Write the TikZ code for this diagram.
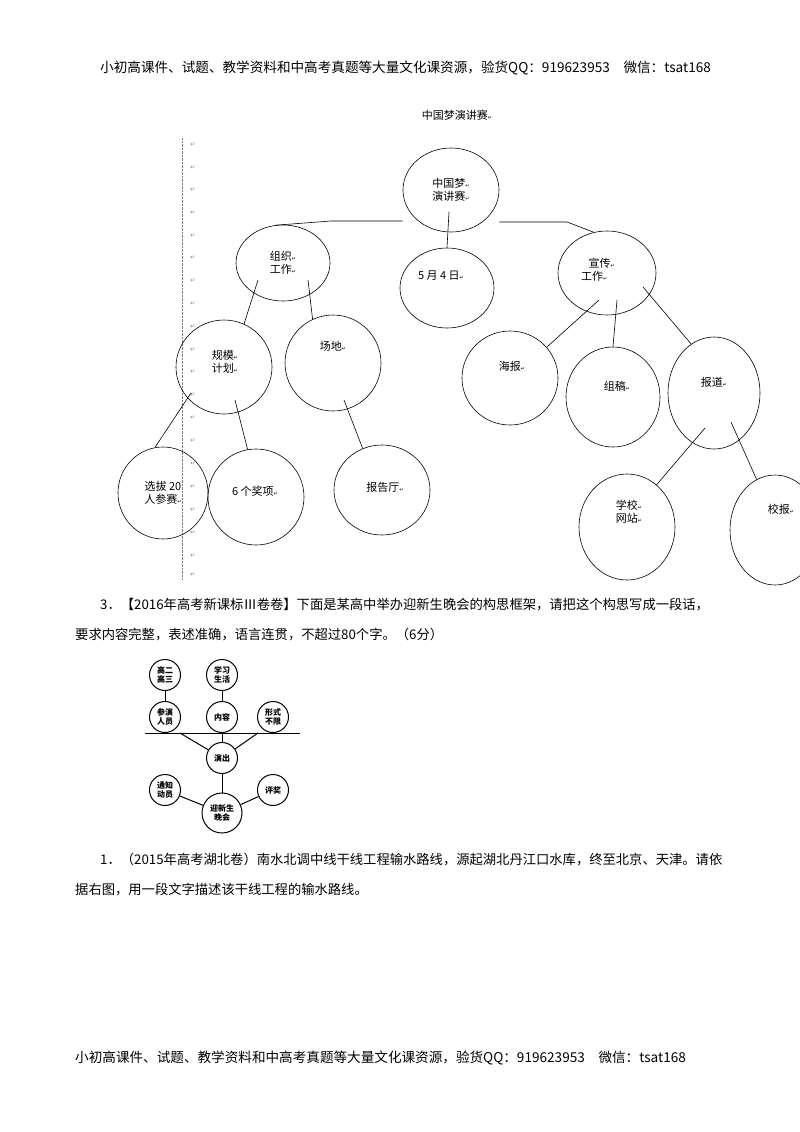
\documentclass[tikz,border=0pt]{standalone}
\usepackage{fontspec}
\usetikzlibrary{shapes.geometric}
\setmainfont{Noto Sans CJK SC}
\newfontfamily\dvs{DejaVu Sans}
\begin{document}
\begin{tikzpicture}[x=1pt,y=-1pt,
  bub/.style={draw,line width=0.6pt,ellipse,inner sep=0,font=\fontsize{11}{13}\selectfont,align=center},
  sm/.style={draw,line width=1pt,circle,minimum size=31,inner sep=0,font=\fontsize{8}{9}\selectfont\bfseries,align=center},
  ln/.style={line width=0.6pt},
  txt/.style={anchor=west,inner sep=0,font=\fontsize{13.3}{15}\selectfont}]
\useasboundingbox (0,0) rectangle (800,1132);
\fill[white] (0,0) rectangle (800,1132);
\node[inner sep=0,font=\fontsize{13.6}{15}\selectfont,anchor=west] (hdr) at (100,68) {小初高课件、试题、教学资料和中高考真题等大量文化课资源，验货QQ：919623953\quad 微信：tsat168};
\node[inner sep=0,font=\fontsize{13.6}{15}\selectfont,anchor=west] (ftr) at (75,1058) {小初高课件、试题、教学资料和中高考真题等大量文化课资源，验货QQ：919623953\quad 微信：tsat168};
% margin
\draw[densely dotted,gray] (182,138) -- (182,580);
\foreach \y in {145,168,190,213,236,258,281,304,327,350,372,395,418,441,464,487,510,533,556,575}
  \node[font=\dvs\fontsize{6}{6}\selectfont,text=gray] at (193,\y) {↵};
\node[font=\fontsize{11}{12}\selectfont] (title) at (457,115) {中国梦演讲赛{\dvs\tiny ↵}};
% nodes
\newcommand\rt{{\dvs\tiny ↵}}
\node[bub,minimum width=96,minimum height=84] (root) at (451,190) {中国梦\rt\\演讲赛\rt};
\node[bub,minimum width=94,minimum height=76] (zz) at (283,263) {组织\rt\\工作\rt};
\node[bub,minimum width=94,minimum height=80] (d54) at (447,288) {};
\node[font=\fontsize{11}{12}\selectfont] at (441,276) {5 月 4 日\rt};
\node[bub,minimum width=98,minimum height=84] (xc) at (607,273) {};
\node[font=\fontsize{11}{13}\selectfont,align=left] at (598,270) {\ \ \ 宣传\rt\\工作\rt};
\node[bub,minimum width=96,minimum height=94] (gm) at (224,367) {};
\node[font=\fontsize{11}{13}\selectfont,align=center] at (225,362) {规模\rt\\计划\rt};
\node[bub,minimum width=96,minimum height=96] (cd) at (333,363) {};
\node[font=\fontsize{11}{12}\selectfont] at (333,346) {场地\rt};
\node[bub,minimum width=96,minimum height=94] (hb) at (510,378) {};
\node[font=\fontsize{11}{12}\selectfont] at (512,366) {海报\rt};
\node[bub,minimum width=94,minimum height=100] (zg) at (613,397) {};
\node[font=\fontsize{11}{12}\selectfont] at (617,386) {组稿\rt};
\node[bub,minimum width=92,minimum height=112] (bd) at (714,393) {};
\node[font=\fontsize{11}{12}\selectfont] at (714,382) {报道\rt};
\node[bub,minimum width=90,minimum height=92] (xb) at (163,493) {选拔 20\\人参赛\rt};
\node[bub,minimum width=96,minimum height=96] (jx) at (256,497) {};
\node[font=\fontsize{11}{12}\selectfont] at (255,491) {6 个奖项\rt};
\node[bub,minimum width=96,minimum height=90] (bgt) at (382,490) {};
\node[font=\fontsize{11}{12}\selectfont] at (385,487) {报告厅\rt};
\node[bub,minimum width=96,minimum height=106] (wz) at (627,527) {};
\node[font=\fontsize{11}{13}\selectfont,align=center] at (629,512) {学校\rt\\网站\rt};
\node[bub,minimum width=90,minimum height=110] (xbao) at (775,530) {};
\node[font=\fontsize{11}{12}\selectfont] at (781,509) {校报\rt};
% connectors
\coordinate (l1) at (331,221); \coordinate (r1) at (567,222);
\draw[ln] (root.west|-l1) -- (l1) -- (zz.102);
\draw[ln] (root.east|-r1) -- (r1) -- (xc.108);
\coordinate (m1) at (449,212);
\draw[ln] (m1) -- (d54.north);
\coordinate (a1) at (258,280); \coordinate (a2) at (308,280);
\draw[ln] (a1) -- (gm.65);
\draw[ln] (a2) -- (cd.115);
\coordinate (b1) at (191,393); \coordinate (b2) at (235,400); \coordinate (b3) at (344,400);
\draw[ln] (b1) -- (xb.100);
\draw[ln] (b2) -- (jx.100);
\draw[ln] (b3) -- (bgt.115);
\coordinate (c1) at (599,300); \coordinate (c2) at (617,300); \coordinate (c3) at (643,287);
\draw[ln] (c1) -- (hb.40);
\draw[ln] (c2) -- (zg.north);
\draw[ln] (c3) -- (bd.115);
\coordinate (e1) at (705,428); \coordinate (e2) at (731,422);
\draw[ln] (e1) -- (wz.55);
\draw[ln] (e2) -- (xbao.110);
% question 3
\node[txt] (q3a) at (100,605) {3．【2016年高考新课标Ⅲ卷卷】下面是某高中举办迎新生晚会的构思框架，请把这个构思写成一段话，};
\node[txt] (q3b) at (75,635) {要求内容完整，表述准确，语言连贯，不超过80个字。（6分）};
% small diagram
\node[sm] (g23) at (165,675) {高二\\高三};
\node[sm] (xx) at (222,675) {学习\\生活};
\node[sm] (cy) at (165,717) {参演\\人员};
\node[sm] (nr) at (222,717) {内容};
\node[sm] (xs) at (273,717) {形式\\不限};
\node[sm] (yc) at (222,758) {演出};
\node[sm] (tz) at (165,790) {通知\\动员};
\node[sm] (pj) at (273,790) {评奖};
\node[sm,minimum size=40] (yx) at (222,813) {迎新生\\晚会};
\coordinate (h1) at (145,733); \coordinate (h2) at (300,733);
\coordinate (h3) at (180,733); \coordinate (h4) at (258,733);
\draw[line width=1pt] (h1) -- (h2);
\draw[line width=1pt] (g23) -- (cy);
\draw[line width=1pt] (xx) -- (nr);
\draw[line width=1pt] (nr) -- (yc);
\draw[line width=1pt] (h3) -- (yc);
\draw[line width=1pt] (h4) -- (yc);
\draw[line width=1pt] (yc) -- (yx);
\draw[line width=1pt] (tz) -- (yx);
\draw[line width=1pt] (pj) -- (yx);
% question 1
\node[txt] (q1a) at (100,860) {1．（2015年高考湖北卷）南水北调中线干线工程输水路线，源起湖北丹江口水库，终至北京、天津。请依};
\node[txt] (q1b) at (75,890) {据右图，用一段文字描述该干线工程的输水路线。};
\end{tikzpicture}
\end{document}
